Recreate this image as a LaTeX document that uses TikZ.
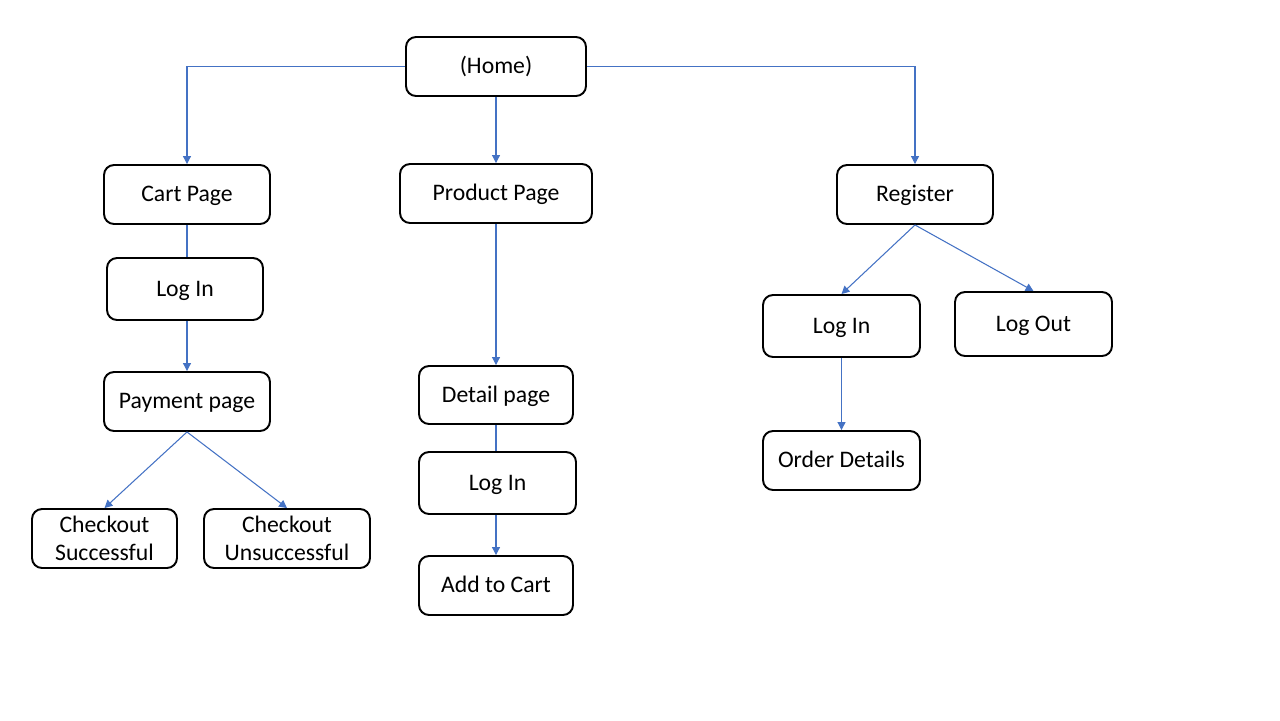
\documentclass[tikz,border=0pt]{standalone}
\usepackage{fontspec}
\setmainfont{Carlito}
\usepackage{tikz}
\usetikzlibrary{calc,positioning,arrows.meta}
\usepackage{xcolor}
\definecolor{lineblue}{RGB}{68,114,196}

\begin{document}
\begin{tikzpicture}[x=0.02cm,y=-0.02cm,
  box/.style={draw, line width=1.1pt, rounded corners=0.2cm, inner sep=0pt,
    align=center, font=\fontsize{13.5}{16}\selectfont, minimum height=1.18cm},
  page/.style={box, text height=11pt, text depth=2.7pt},
  link/.style={draw=lineblue, line width=0.6pt},
  arr/.style={link, -{Triangle[length=4.5pt,width=4.5pt]}}]
  \useasboundingbox (0,0) rectangle (1280,720);

  % Home
  \node[page, minimum width=3.6cm] (home) at (496,66.5) {(Home)};

  % Cart branch
  \node[page, minimum width=3.32cm] (cart) at (187,194.5) {Cart Page};
  \node[page, minimum width=3.12cm, minimum height=1.24cm] (cartlogin) at (185,289) {Log In};
  \node[page, minimum width=3.32cm] (payment) at (187,401.5) {Payment page};
  \node[box, minimum width=2.9cm] (success) at (104.5,538.5) {Checkout\\Successful};
  \node[box, minimum width=3.32cm] (fail) at (287,538.5) {Checkout\\Unsuccessful};

  % Product branch
  \node[page, minimum width=3.84cm] (product) at (496,193.5) {Product Page};
  \node[page, minimum width=3.08cm, minimum height=1.16cm] (detail) at (496,395) {Detail page};
  \node[page, minimum width=3.14cm, minimum height=1.24cm] (prodlogin) at (497.5,483) {Log In};
  \node[page, minimum width=3.08cm] (addcart) at (496,585.5) {Add to Cart};

  % Register branch
  \node[page, minimum width=3.12cm] (register) at (915,194.5) {Register};
  \node[page, minimum width=3.14cm, minimum height=1.24cm] (reglogin) at (841.5,326) {Log In};
  \node[page, minimum width=3.14cm, minimum height=1.28cm] (logout) at (1033.5,324) {Log Out};
  \node[page, minimum width=3.14cm] (orders) at (841.5,460.5) {Order Details};

  % connectors
  \draw[arr] (home.west) -| (cart.north);
  \draw[arr] (home.south) -- (product.north);
  \draw[arr] (home.east) -| (register.north);

  \draw[link] (cart.south) -- (cart.south |- cartlogin.north);
  \draw[arr] (payment.north |- cartlogin.south) -- (payment.north);
  \draw[arr] (payment.south) -- (success.north);
  \draw[arr] (payment.south) -- (fail.north);

  \draw[arr] (product.south) -- (detail.north);
  \draw[link] (detail.south) -- (detail.south |- prodlogin.north);
  \draw[arr] (addcart.north |- prodlogin.south) -- (addcart.north);

  \draw[arr] (register.south) -- (reglogin.north);
  \draw[arr] (register.south) -- (logout.north);
  \draw[arr] (reglogin.south) -- (orders.north);
\end{tikzpicture}
\end{document}
